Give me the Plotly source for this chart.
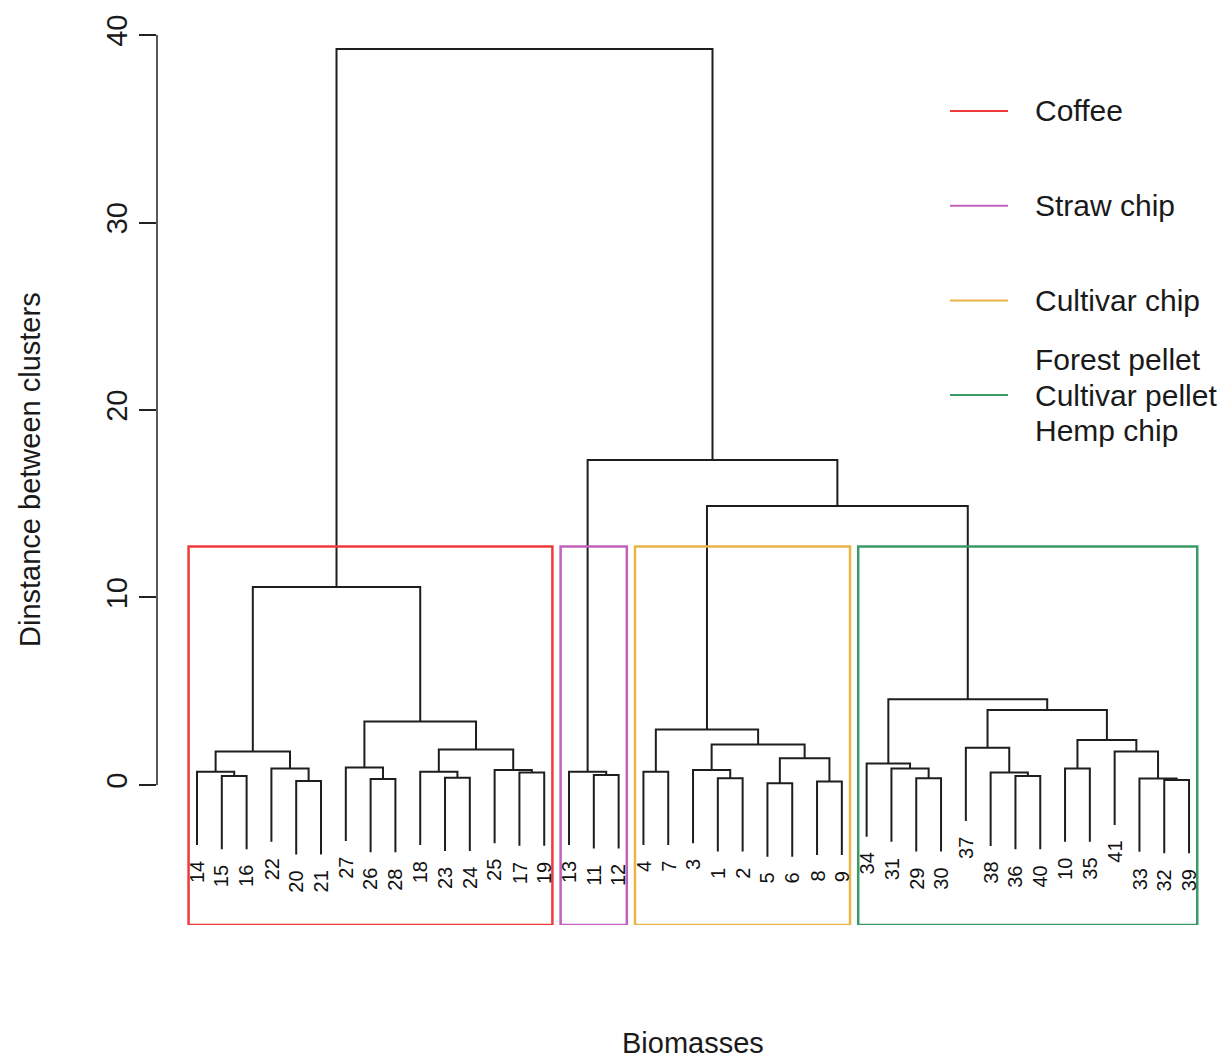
import plotly.graph_objects as go

# Hierarchical clustering result in hclust form:
# a negative entry -k is biomass sample k, a positive entry j is merge row j (1-based).
merge_left = [-5, -8, -20, -32, -26, -33, -1, -29, -23, -15,
              -36, -11, -38, -17, -14, -18, -13, -4, -3, -25,
              -22, -31, -10, -27, -34, 1, 15, -41, 16, -37,
              19, 23, 18, 24, 30, 25, 27, 33, 17, 37]
merge_right = [-6, -9, -21, -39, -28, 4, -2, -30, -24, -16,
               -40, -12, 11, -19, 10, 9, 12, -7, 7, 14,
               3, 8, -35, 5, 22, 2, 21, 6, 20, 13,
               26, 28, 31, 29, 32, 35, 34, 36, 38, 39]
merge_height = [0.09, 0.18, 0.21, 0.27, 0.32, 0.35, 0.36, 0.36, 0.39, 0.48,
                0.48, 0.53, 0.66, 0.67, 0.71, 0.71, 0.71, 0.71, 0.80, 0.80,
                0.88, 0.88, 0.88, 0.93, 1.15, 1.42, 1.78, 1.78, 1.89, 1.99,
                2.16, 2.40, 2.96, 3.38, 4.00, 4.57, 10.56, 14.88, 17.33, 39.25]

# Groups obtained by cutting the tree into four clusters (left to right)
cluster_names = ["Coffee", "Straw chip", "Cultivar chip",
                 "Forest pellet\nCultivar pellet\nHemp chip"]
cluster_colors = ["#EE3B3B", "#C061BC", "#EBB446", "#3A9A68"]
n_clusters = 4

y_ticks = [0, 10, 20, 30, 40]

FONT = "Liberation Sans, Arial, Helvetica, sans-serif"
hang = 0.1 * (max(merge_height) - min(merge_height))
y_min, y_max = -7.47, 41.07
x_min, x_max = -0.613, 42.53

n_merges = len(merge_height)
root = n_merges


# leaf order from a left-first traversal of the tree
def leaves_of(node):
    if node < 0:
        return [-node]
    return leaves_of(merge_left[node - 1]) + leaves_of(merge_right[node - 1])


leaf_order = leaves_of(root)
leaf_pos = {leaf: i + 1 for i, leaf in enumerate(leaf_order)}

node_x = {}


def x_of(node):
    if node < 0:
        return leaf_pos[-node]
    if node not in node_x:
        node_x[node] = (x_of(merge_left[node - 1]) + x_of(merge_right[node - 1])) / 2
    return node_x[node]


# dendrogram links
seg_x, seg_y = [], []
leaf_bottom = {}
for j in range(1, n_merges + 1):
    h = merge_height[j - 1]
    ends = []
    for child in (merge_left[j - 1], merge_right[j - 1]):
        if child < 0:
            yb = h - hang
            leaf_bottom[-child] = yb
        else:
            yb = merge_height[child - 1]
        ends.append((x_of(child), yb))
    (xa, ya), (xb, yb) = ends
    seg_x += [xa, xa, xb, xb, None]
    seg_y += [ya, h, h, yb, None]

fig = go.Figure()
fig.add_trace(go.Scatter(x=seg_x, y=seg_y, mode="lines",
                         line=dict(color="#1e1e1e", width=2),
                         hoverinfo="skip", showlegend=False))

# leaf labels hanging under each leaf
annotations = []
for leaf in leaf_order:
    annotations.append(dict(x=leaf_pos[leaf], y=leaf_bottom[leaf], xref="x", yref="y",
                            text=str(leaf), showarrow=False, textangle=-90,
                            xanchor="center", yanchor="top", yshift=-14,
                            font=dict(family=FONT, size=20, color="#111")))

# cut the tree into clusters and frame each one
heights_desc = sorted(merge_height, reverse=True)
cut_height = (heights_desc[n_clusters - 2] + heights_desc[n_clusters - 1]) / 2


def clusters_of(node):
    if node < 0 or merge_height[node - 1] < cut_height:
        return [leaves_of(node)]
    return clusters_of(merge_left[node - 1]) + clusters_of(merge_right[node - 1])


shapes = []
start = 0
for members, color in zip(clusters_of(root), cluster_colors):
    end = start + len(members)
    shapes.append(dict(type="rect", xref="x", yref="y",
                       x0=start + 0.66, x1=end + 0.33, y0=y_min, y1=cut_height,
                       line=dict(color=color, width=2.5), fillcolor="rgba(0,0,0,0)"))
    start = end

# y axis line spanning the tick range
shapes.append(dict(type="line", xref="paper", yref="y", x0=0, x1=0,
                   y0=y_ticks[0], y1=y_ticks[-1], line=dict(color="#222", width=1.5)))

# legend: coloured strokes with their group names
plot_left, plot_top, plot_w, plot_h = 157, 15, 1070, 910


def px_x(p):
    return (p - plot_left) / plot_w


def px_y(p):
    return (plot_top + plot_h - p) / plot_h


legend_first_y, legend_step, line_gap = 111, 94.7, 35.5
for i, (name, color) in enumerate(zip(cluster_names, cluster_colors)):
    cy = legend_first_y + i * legend_step
    shapes.append(dict(type="line", xref="paper", yref="paper",
                       x0=px_x(950), x1=px_x(1008), y0=px_y(cy), y1=px_y(cy),
                       line=dict(color=color, width=2)))
    lines = name.split("\n")
    for k, txt in enumerate(lines):
        ly = cy + (k - (len(lines) - 1) / 2) * line_gap
        annotations.append(dict(x=px_x(1033), y=px_y(ly), xref="paper", yref="paper",
                                text=txt, showarrow=False, xanchor="left", yanchor="middle",
                                font=dict(family=FONT, size=30, color="#1a1a1a")))

# axis titles
annotations.append(dict(x=px_x(30), y=0.5, xref="paper", yref="paper",
                        text="Dinstance between clusters", textangle=-90, showarrow=False,
                        xanchor="center", yanchor="middle",
                        font=dict(family=FONT, size=29, color="#1a1a1a")))
annotations.append(dict(x=(1 + len(leaf_order)) / 2, y=px_y(1043), xref="x", yref="paper",
                        text="Biomasses", showarrow=False, xanchor="center", yanchor="middle",
                        font=dict(family=FONT, size=29, color="#1a1a1a")))

fig.update_layout(
    width=1227, height=1062,
    margin=dict(l=plot_left, r=0, t=plot_top, b=1062 - plot_top - plot_h),
    paper_bgcolor="white", plot_bgcolor="white",
    shapes=shapes, annotations=annotations, showlegend=False,
    xaxis=dict(range=[x_min, x_max], visible=False),
    yaxis=dict(range=[y_min, y_max], tickvals=y_ticks, ticks="outside", ticklen=17,
               tickwidth=1.5, tickcolor="#222", tickangle=-90, showline=False,
               showgrid=False, zeroline=False,
               tickfont=dict(family=FONT, size=29, color="#1a1a1a")),
)

fig.write_html("out.html")
